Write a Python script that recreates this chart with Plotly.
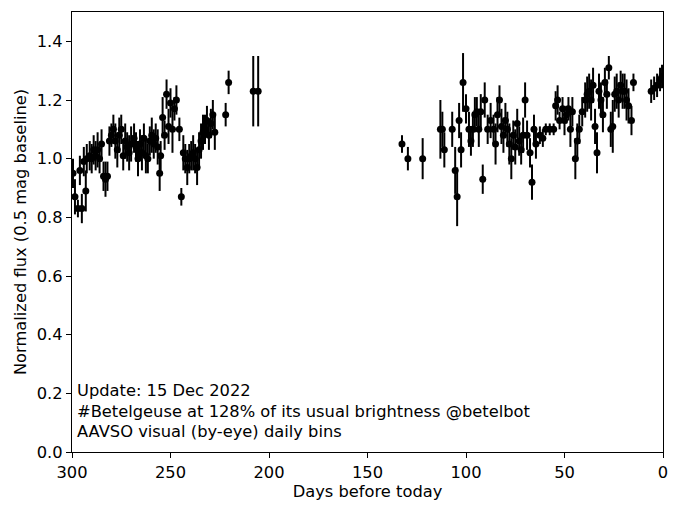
import plotly.graph_objects as go

# Days before today, normalized flux, error
days = [299.5, 298.5, 297, 296, 295, 294, 293, 292.5, 291, 290, 289, 288, 287, 286, 285, 284, 283, 282,
        281, 280, 279, 278, 277, 276, 275, 274, 273, 272, 271, 270, 268.5, 267.5, 266.5, 265.5, 264.5,
        263.5, 262.5, 261.5, 260.5, 259.5, 258.5, 257.5, 256.5, 255.5, 255, 254, 253, 252, 251, 250, 249,
        248, 247, 245.5, 244.5, 243.5, 242.5, 241.5, 240.5, 239.5, 238.5, 237.5, 236.5, 235.5, 234.5,
        233.5, 232.5, 231.5, 230.5, 229.5, 228.5, 227.5, 222, 220.5, 208, 205.5,
        132.5, 129.5, 122, 113, 112, 111, 107, 105.5, 104.5, 103.5, 102.5, 101.5, 100, 98.5, 97.5, 96.5,
        95.5, 94.5, 93.5, 92.5, 91.5, 90.5, 89, 87.5, 86, 85, 84, 83, 82, 81, 80, 79, 78, 77, 76, 75, 74,
        73, 72, 71, 70, 69, 67.5, 66.5, 65.5, 64.5, 62.5, 61, 59.5, 57.5, 55.5, 54.5, 53.5, 52.5, 51, 50,
        49, 48, 47, 46, 44.5, 43.5, 42.5, 41, 39.5, 38.5, 37.5, 36.5, 35.5, 34.5, 33.5, 32.5, 31.5, 30.5,
        29.5, 28.5, 27.5, 26.5, 25.5, 24.5, 23.5, 22.5, 21.5, 20.5, 19.5, 18.5, 17.5, 16, 15,
        6, 4.5, 3, 1.5, 0.5]
flux = [0.95, 0.87, 0.83, 0.96, 0.83, 0.99, 0.89, 1.00, 1.01, 1.00, 1.03, 1.01, 1.03, 1.00, 1.05, 0.94,
        0.93, 0.94, 1.06, 1.08, 1.10, 1.06, 1.03, 1.08, 1.10, 1.01, 1.06, 1.04, 1.02, 1.05, 1.07, 1.04,
        1.00, 1.05, 1.02, 1.07, 1.01, 1.00, 1.06, 1.08, 1.05, 1.07, 1.04, 0.95, 1.01, 1.14, 1.08, 1.22,
        1.11, 1.19, 1.10, 1.17, 1.20, 1.10, 0.87, 1.02, 1.00, 0.97, 1.00, 1.01, 1.02, 1.00, 0.97, 1.03,
        1.06, 1.09, 1.10, 1.13, 1.08, 1.12, 1.15, 1.09, 1.15, 1.26, 1.23, 1.23,
        1.05, 1.00, 1.00, 1.10, 1.10, 1.03, 1.10, 0.96, 0.87, 1.13, 1.03, 1.26, 1.17, 1.10, 1.06, 1.10,
        1.15, 1.16, 1.10, 1.16, 0.93, 1.20, 1.10, 1.13, 1.10, 1.05, 1.15, 1.20, 1.11, 1.08, 1.13, 1.10,
        1.05, 1.00, 1.08, 1.04, 1.12, 1.06, 1.03, 1.08, 1.20, 1.08, 1.02, 0.92, 1.10, 1.05, 1.08, 1.07,
        1.10, 1.10, 1.10, 1.18, 1.20, 1.13, 1.17, 1.13, 1.15, 1.17, 1.10, 1.16, 1.00, 1.06, 1.10, 1.16,
        1.20, 1.22, 1.23, 1.20, 1.25, 1.11, 1.02, 1.23, 1.20, 1.15, 1.26, 1.22, 1.31, 1.10, 1.11, 1.22,
        1.23, 1.20, 1.25, 1.23, 1.23, 1.20, 1.18, 1.13, 1.26,
        1.23, 1.24, 1.25, 1.27, 1.28]
err = [0.05, 0.06, 0.03, 0.05, 0.05, 0.05, 0.07, 0.05, 0.05, 0.05, 0.05, 0.05, 0.06, 0.05, 0.05, 0.05,
       0.06, 0.05, 0.05, 0.04, 0.05, 0.06, 0.06, 0.06, 0.05, 0.05, 0.06, 0.05, 0.06, 0.06, 0.05, 0.05,
       0.06, 0.05, 0.06, 0.05, 0.06, 0.05, 0.05, 0.06, 0.05, 0.05, 0.06, 0.06, 0.05, 0.07, 0.05, 0.05,
       0.06, 0.05, 0.08, 0.04, 0.05, 0.04, 0.03, 0.06, 0.05, 0.06, 0.05, 0.05, 0.06, 0.05, 0.06, 0.06,
       0.06, 0.06, 0.05, 0.05, 0.05, 0.05, 0.05, 0.06, 0.04, 0.04, 0.12, 0.12,
       0.03, 0.04, 0.07, 0.10, 0.06, 0.06, 0.06, 0.08, 0.10, 0.06, 0.06, 0.10, 0.05, 0.06, 0.05, 0.06,
       0.06, 0.05, 0.06, 0.06, 0.05, 0.06, 0.05, 0.06, 0.05, 0.07, 0.06, 0.05, 0.06, 0.06, 0.06, 0.06,
       0.07, 0.07, 0.05, 0.06, 0.05, 0.05, 0.05, 0.06, 0.06, 0.05, 0.05, 0.06, 0.05, 0.05, 0.03, 0.03,
       0.02, 0.02, 0.02, 0.05, 0.05, 0.03, 0.04, 0.05, 0.03, 0.04, 0.06, 0.05, 0.07, 0.06, 0.05, 0.05,
       0.06, 0.06, 0.06, 0.07, 0.06, 0.06, 0.07, 0.06, 0.06, 0.06, 0.05, 0.05, 0.04, 0.06, 0.09, 0.06,
       0.06, 0.06, 0.05, 0.06, 0.06, 0.07, 0.06, 0.05, 0.03,
       0.04, 0.04, 0.04, 0.04, 0.04]

x_ticks = [300, 250, 200, 150, 100, 50, 0]
y_ticks = [0.0, 0.2, 0.4, 0.6, 0.8, 1.0, 1.2, 1.4]
notes = ["Update: 15 Dec 2022",
         "#Betelgeuse at 128% of its usual brightness @betelbot",
         "AAVSO visual (by-eye) daily bins"]
note_y = [0.211, 0.137, 0.069]

font = "DejaVu Sans"
fs = 16.3
fig = go.Figure()
fig.add_trace(go.Scatter(
    x=days, y=flux, mode="markers",
    marker=dict(color="black", size=7),
    error_y=dict(type="data", array=err, color="black", thickness=2, width=0),
    showlegend=False,
))
for t, yy in zip(notes, note_y):
    fig.add_annotation(x=298.3, y=yy, xref="x", yref="y", text=t, showarrow=False,
                       xanchor="left", yanchor="middle",
                       font=dict(family=font, size=fs, color="black"))

axis_common = dict(showline=True, linecolor="black", linewidth=1.2, mirror=True,
                   ticks="outside", ticklen=5, tickwidth=1.2, tickcolor="black",
                   showgrid=False, zeroline=False,
                   tickfont=dict(family=font, size=fs, color="black"))
fig.update_xaxes(range=[300, 0], tickvals=x_ticks, ticktext=[str(v) for v in x_ticks],
                 title=dict(text="Days before today", font=dict(family=font, size=fs, color="black"), standoff=4),
                 **axis_common)
fig.update_yaxes(range=[0, 1.5], tickvals=y_ticks, ticktext=[f"{v:.1f}" for v in y_ticks],
                 title=dict(text="Normalized flux (0.5 mag baseline)", font=dict(family=font, size=fs, color="black"), standoff=6),
                 **axis_common)
fig.update_layout(width=680, height=515, margin=dict(l=72, r=17, t=12, b=63),
                  plot_bgcolor="white", paper_bgcolor="white",
                  font=dict(family=font, color="black"))
fig.write_html("out.html")
